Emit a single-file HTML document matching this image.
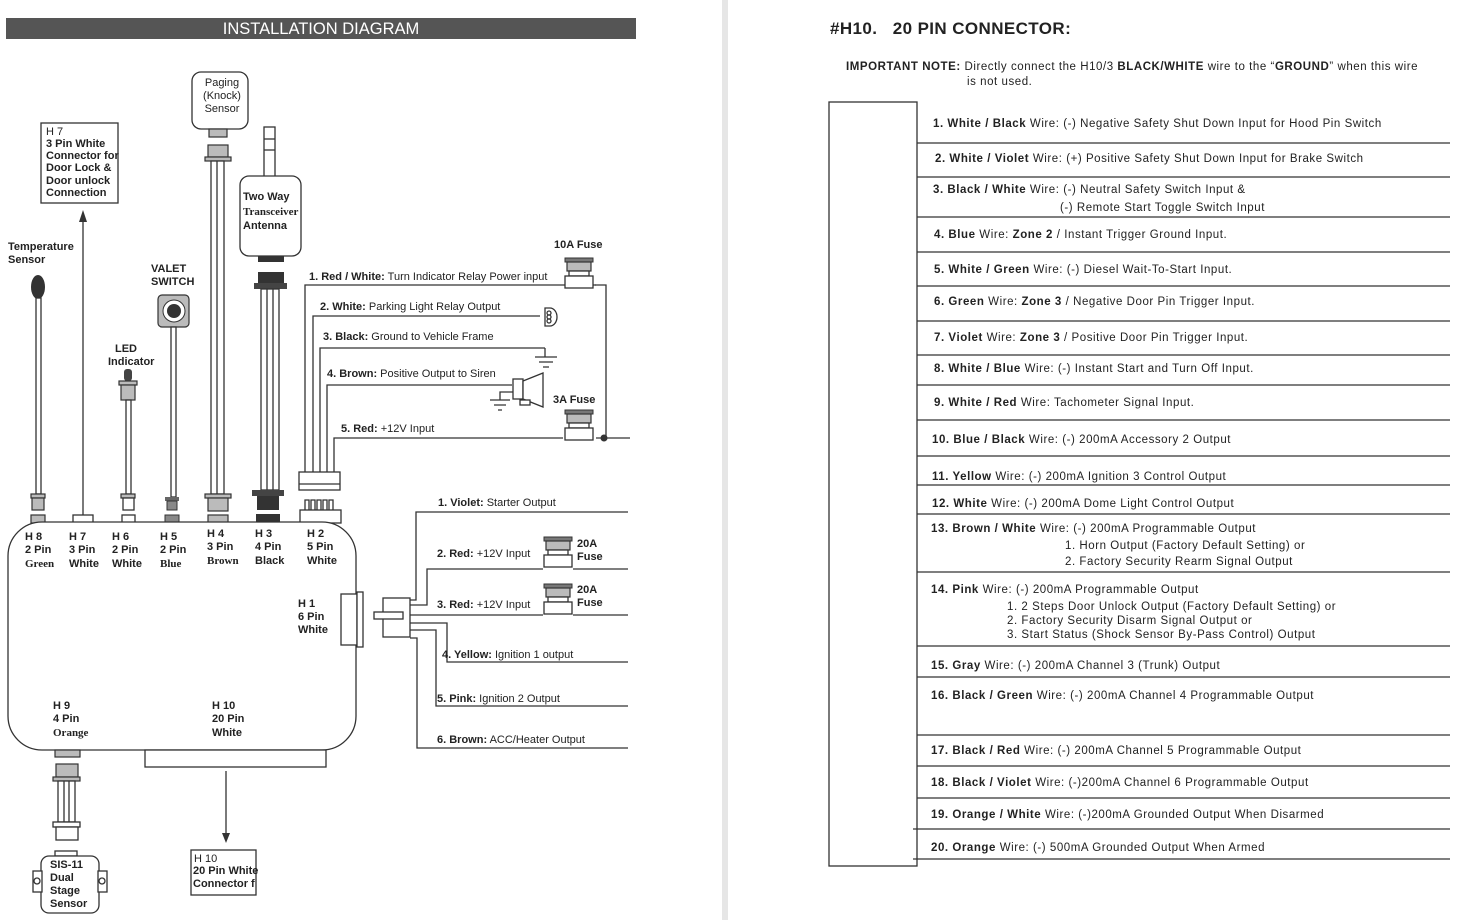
<!DOCTYPE html>
<html><head><meta charset="utf-8"><style>
html,body{margin:0;padding:0;background:#fff}
svg{display:block;font-family:"Liberation Sans",Arial,sans-serif}
.s{fill:none;stroke:#333;stroke-width:1.3}
.t{font-size:11px;fill:#222}
.b{font-weight:bold}
.r{font-size:11.5px;fill:#222;letter-spacing:0.55px}
.g{fill:#bbb;stroke:#333;stroke-width:1.2}
.w{fill:#fff;stroke:#333;stroke-width:1.3}
.d{fill:#444;stroke:#222}
</style></head><body>
<svg width="1464" height="920" viewBox="0 0 1464 920">
<defs>
<g id="fuse"><rect x="2" y="0" width="28" height="4" fill="#777" stroke="#333"/><rect x="4" y="4" width="24" height="9" class="g"/><rect x="6" y="13" width="20" height="5" class="w"/><rect x="2" y="18" width="28" height="12" class="w"/></g>
</defs>
<rect x="722" y="0" width="6" height="920" fill="#e6e6e6"/>
<!-- title -->
<rect x="6" y="18" width="630" height="21" fill="#555"/>
<text x="321" y="34" text-anchor="middle" fill="#fff" font-size="16.5">INSTALLATION DIAGRAM</text>

<!-- H7 box -->
<rect x="41" y="123" width="77" height="80" class="w"/>
<text x="46" y="135" class="t" font-size="12">H 7</text>
<text class="t b" font-size="9.5"><tspan x="46" y="147">3 Pin White</tspan><tspan x="46" y="159">Connector for</tspan><tspan x="46" y="171">Door Lock &amp;</tspan><tspan x="46" y="184">Door unlock</tspan><tspan x="46" y="196">Connection</tspan></text>
<line x1="83" y1="222" x2="83" y2="516" class="s"/>
<polygon points="83,210 79,222 87,222" fill="#333"/>

<!-- temp sensor -->
<text class="t b" font-size="11"><tspan x="8" y="250">Temperature</tspan><tspan x="8" y="263">Sensor</tspan></text>
<ellipse cx="38" cy="287" rx="7" ry="12" fill="#333"/>
<rect x="36" y="298" width="5" height="196" class="w"/>
<rect x="31" y="494" width="14" height="4" class="g"/><rect x="32" y="498" width="12" height="12" class="g"/>

<!-- LED -->
<text class="t b" x="115" y="352">LED</text><text class="t b" x="108" y="365">Indicator</text>
<rect x="124" y="369" width="8" height="12" rx="3" fill="#444"/>
<rect x="119" y="381" width="18" height="4" class="g"/><rect x="121" y="385" width="14" height="15" class="g"/>
<rect x="126" y="400" width="5" height="94" class="w"/>
<rect x="121" y="494" width="14" height="4" class="g"/><rect x="123" y="498" width="11" height="12" class="w"/>

<!-- valet -->
<text class="t b" x="151" y="272">VALET</text><text class="t b" x="151" y="285">SWITCH</text>
<rect x="158" y="295" width="31" height="32" rx="4" class="g"/>
<circle cx="174" cy="311" r="11" fill="#fff" stroke="#333"/><circle cx="174" cy="311" r="7" fill="#333"/>
<rect x="171" y="327" width="5" height="170" class="w"/>
<rect x="165" y="497" width="14" height="4" fill="#666"/><rect x="167" y="501" width="10" height="9" fill="#888" stroke="#333"/>

<!-- paging sensor -->
<rect x="192" y="72" width="56" height="57" rx="9" class="w"/>
<text class="t" text-anchor="middle"><tspan x="222" y="86">Paging</tspan><tspan x="222" y="99">(Knock)</tspan><tspan x="222" y="112">Sensor</tspan></text>
<rect x="209" y="129" width="18" height="8" class="g"/>
<rect x="208" y="145" width="20" height="12" class="g"/><rect x="205" y="157" width="26" height="4" class="g"/>
<rect x="211" y="161" width="13" height="333" class="w"/><line x1="217" y1="161" x2="217" y2="494" class="s"/>
<rect x="205" y="494" width="26" height="4" class="g"/><rect x="208" y="498" width="20" height="13" class="g"/>

<!-- antenna -->
<rect x="264" y="127" width="11" height="50" class="w"/><line x1="264" y1="139" x2="275" y2="139" class="s"/><line x1="264" y1="150" x2="275" y2="150" class="s"/>
<rect x="240" y="176" width="61" height="80" rx="9" class="w"/>
<text class="t b"><tspan x="243" y="200">Two Way</tspan><tspan x="243" y="215" font-family="Liberation Serif">Transceiver</tspan><tspan x="243" y="229">Antenna</tspan></text>
<rect x="258" y="256" width="26" height="6" fill="#333"/>
<rect x="258" y="272" width="26" height="11" fill="#333"/><rect x="254" y="283" width="33" height="6" fill="#444"/>
<rect x="261" y="289" width="18" height="201" class="w"/><line x1="267" y1="289" x2="267" y2="490" class="s"/><line x1="273" y1="289" x2="273" y2="490" class="s"/>
<rect x="252" y="490" width="32" height="6" fill="#444"/><rect x="257" y="496" width="22" height="14" fill="#333"/>

<!-- connector pads on module -->
<rect x="31" y="515" width="14" height="8" class="g"/>
<rect x="73" y="515" width="20" height="8" class="w"/>
<rect x="122" y="515" width="13" height="8" class="w"/>
<rect x="165" y="515" width="14" height="8" fill="#888" stroke="#333"/>
<rect x="208" y="515" width="20" height="8" class="g"/>
<rect x="256" y="514" width="24" height="9" fill="#333"/>
<rect x="300" y="510" width="41" height="13" class="w"/>
<path d="M305 510v-10h4v10M311 510v-10h4v10M317 510v-10h4v10M323 510v-10h4v10M329 510v-10h4v10" class="s"/>

<!-- module -->
<rect x="8" y="522" width="348" height="228" rx="34" class="w" stroke-width="1.5"/>
<rect x="145" y="750" width="181" height="17" class="w"/>
<g class="t b" font-size="10.5">
<text x="25" y="540">H 8</text><text x="25" y="553">2 Pin</text><text x="25" y="567" font-family="Liberation Serif">Green</text>
<text x="69" y="540">H 7</text><text x="69" y="553">3 Pin</text><text x="69" y="567">White</text>
<text x="112" y="540">H 6</text><text x="112" y="553">2 Pin</text><text x="112" y="567">White</text>
<text x="160" y="540">H 5</text><text x="160" y="553">2 Pin</text><text x="160" y="567" font-family="Liberation Serif">Blue</text>
<text x="207" y="537">H 4</text><text x="207" y="550">3 Pin</text><text x="207" y="564" font-family="Liberation Serif">Brown</text>
<text x="255" y="537">H 3</text><text x="255" y="550">4 Pin</text><text x="255" y="564">Black</text>
<text x="307" y="537">H 2</text><text x="307" y="550">5 Pin</text><text x="307" y="564">White</text>
<text x="298" y="607">H 1</text><text x="298" y="620">6 Pin</text><text x="298" y="633">White</text>
<text x="53" y="709">H 9</text><text x="53" y="722">4 Pin</text><text x="53" y="736" font-family="Liberation Serif">Orange</text>
<text x="212" y="709">H 10</text><text x="212" y="722">20 Pin</text><text x="212" y="736">White</text>
</g>

<!-- H9 -->
<rect x="55" y="750" width="25" height="7" class="g"/>
<rect x="56" y="764" width="22" height="13" class="g"/><rect x="53" y="777" width="27" height="4" class="g"/>
<rect x="58" y="781" width="17" height="41" class="w"/><line x1="64" y1="781" x2="64" y2="822" class="s"/><line x1="69" y1="781" x2="69" y2="822" class="s"/>
<rect x="53" y="822" width="27" height="5" class="w"/><rect x="56" y="827" width="22" height="13" class="w"/>
<rect x="55" y="851" width="22" height="5" class="w"/>
<rect x="41" y="856" width="58" height="57" rx="8" class="w"/>
<rect x="33" y="871" width="9" height="21" class="w"/><circle cx="37" cy="881" r="3" class="w"/>
<rect x="98" y="871" width="9" height="21" class="w"/><circle cx="102" cy="881" r="3" class="w"/>
<text class="t b"><tspan x="50" y="868">SIS-11</tspan><tspan x="50" y="881">Dual</tspan><tspan x="50" y="894">Stage</tspan><tspan x="50" y="907">Sensor</tspan></text>

<!-- H10 arrow -->
<line x1="226" y1="771" x2="226" y2="834" class="s"/><polygon points="226,843 222,833 230,833" fill="#333"/>
<rect x="191" y="850" width="65" height="45" class="w"/>
<text x="194" y="862" class="t" font-size="12">H 10</text>
<text class="t b" font-size="9"><tspan x="193" y="874">20 Pin White</tspan><tspan x="193" y="887">Connector f</tspan></text>

<!-- H2 harness -->
<rect x="299" y="472" width="41" height="18" class="w"/><line x1="299" y1="484" x2="340" y2="484" class="s"/>
<path d="M305 472V285H596M313 472V316H540M320 472V348H545M327 472V385H512M334 472V438H563" class="s"/>
<path d="M595 285H606V438M596 438H630" class="s"/>
<circle cx="604" cy="438" r="3.5" fill="#333"/>
<g transform="translate(563,258)"><use href="#fuse"/></g>
<g transform="translate(563,410)"><use href="#fuse"/></g>
<text x="554" y="248" class="t b">10A Fuse</text>
<text x="553" y="403" class="t b">3A Fuse</text>
<!-- lamp -->
<path d="M545 308h5a7 9 0 0 1 0 18h-5z" class="w"/><circle cx="549" cy="313" r="2" class="w"/><circle cx="549" cy="317" r="2" class="w"/><circle cx="549" cy="321" r="2" class="w"/>
<!-- ground -->
<path d="M545 348v9M535 357h22M539 362h14M543 367h6" class="s"/>
<!-- siren -->
<rect x="513" y="379" width="10" height="20" class="w"/><path d="M523 381l20-8v34l-20-8z" class="w"/>
<rect x="520" y="400" width="10" height="5" class="w"/>
<path d="M513 392h-13v8M490 400h20M494 405h12M498 410h4" class="s"/>
<g class="t">
<text x="309" y="280"><tspan class="b">1. Red / White:</tspan> Turn Indicator Relay Power input</text>
<text x="320" y="310"><tspan class="b">2. White:</tspan> Parking Light Relay Output</text>
<text x="323" y="340"><tspan class="b">3. Black:</tspan> Ground to Vehicle Frame</text>
<text x="327" y="377"><tspan class="b">4. Brown:</tspan> Positive Output to Siren</text>
<text x="341" y="432"><tspan class="b">5. Red:</tspan> +12V Input</text>
</g>

<!-- H1 -->
<rect x="341" y="594" width="16" height="51" class="w"/><rect x="357" y="592" width="6" height="55" class="w"/>
<rect x="383" y="598" width="27" height="39" class="w"/><rect x="374" y="612" width="29" height="7" class="w"/>
<path d="M410 600H416V512H628M410 605H427V569H543M573 569H628M410 615H543M573 615H628M410 623H447V662H628M410 630H436V706H628M410 638H417V748H628" class="s"/>
<g transform="translate(542,537)"><use href="#fuse"/></g>
<g transform="translate(542,584)"><use href="#fuse"/></g>
<g class="t">
<text x="438" y="506"><tspan class="b">1. Violet:</tspan> Starter Output</text>
<text x="437" y="557"><tspan class="b">2. Red:</tspan> +12V Input</text>
<text x="437" y="608"><tspan class="b">3. Red:</tspan> +12V Input</text>
<text x="442" y="658"><tspan class="b">4. Yellow:</tspan> Ignition 1 output</text>
<text x="437" y="702"><tspan class="b">5. Pink:</tspan> Ignition 2 Output</text>
<text x="437" y="743"><tspan class="b">6. Brown:</tspan> ACC/Heater Output</text>
<text x="577" y="547" class="b">20A</text><text x="577" y="560" class="b">Fuse</text>
<text x="577" y="593" class="b">20A</text><text x="577" y="606" class="b">Fuse</text>
</g>

<!-- RIGHT PAGE -->
<text x="830" y="34" font-size="17" font-weight="bold" fill="#222" letter-spacing="0.4">#H10.&#160;&#160; 20 PIN CONNECTOR:</text>
<text x="846" y="70" class="r" font-size="11" letter-spacing="0.85"><tspan class="b">IMPORTANT NOTE:</tspan> Directly connect the H10/3 <tspan class="b">BLACK/WHITE</tspan> wire to the “<tspan class="b">GROUND</tspan>” when this wire</text>
<text x="967" y="85" class="r" font-size="11" letter-spacing="0.85">is not used.</text>
<rect x="829" y="102" width="88" height="764" fill="none" stroke="#333" stroke-width="1.3"/>
<path d="M917 143H1450M917 177H1450M917 217H1450M917 252H1450M917 286H1450M917 321H1450M917 355H1450M917 385H1450M917 420H1450M917 456H1450M917 485H1450M917 514H1450M917 572H1450M917 646H1450M917 677H1450M917 735H1450M917 766H1450M917 798H1450M913 829H1450M913 859H1450" class="s"/>
<g class="r">
<text x="933" y="127"><tspan class="b">1. White / Black</tspan> Wire: (-) Negative Safety Shut Down Input for Hood Pin Switch</text>
<text x="935" y="162"><tspan class="b">2. White / Violet</tspan> Wire: (+) Positive Safety Shut Down Input for Brake Switch</text>
<text x="933" y="193"><tspan class="b">3. Black / White</tspan> Wire: (-) Neutral Safety Switch Input &amp;</text>
<text x="1060" y="211">(-) Remote Start Toggle Switch Input</text>
<text x="934" y="238"><tspan class="b">4. Blue</tspan> Wire: <tspan class="b">Zone 2</tspan> / Instant Trigger Ground Input.</text>
<text x="934" y="273"><tspan class="b">5. White / Green</tspan> Wire: (-) Diesel Wait-To-Start Input.</text>
<text x="934" y="305"><tspan class="b">6. Green</tspan> Wire: <tspan class="b">Zone 3</tspan> / Negative Door Pin Trigger Input.</text>
<text x="934" y="341"><tspan class="b">7. Violet</tspan> Wire: <tspan class="b">Zone 3</tspan> / Positive Door Pin Trigger Input.</text>
<text x="934" y="372"><tspan class="b">8. White / Blue</tspan> Wire: (-) Instant Start and Turn Off Input.</text>
<text x="934" y="406"><tspan class="b">9. White / Red</tspan> Wire: Tachometer Signal Input.</text>
<text x="932" y="443"><tspan class="b">10. Blue / Black</tspan> Wire: (-) 200mA Accessory 2 Output</text>
<text x="932" y="480"><tspan class="b">11. Yellow</tspan> Wire: (-) 200mA Ignition 3 Control Output</text>
<text x="932" y="507"><tspan class="b">12. White</tspan> Wire: (-) 200mA Dome Light Control Output</text>
<text x="931" y="532"><tspan class="b">13. Brown / White</tspan> Wire: (-) 200mA Programmable Output</text>
<text x="1065" y="549">1. Horn Output (Factory Default Setting) or</text>
<text x="1065" y="565">2. Factory Security Rearm Signal Output</text>
<text x="931" y="593"><tspan class="b">14. Pink</tspan> Wire: (-) 200mA Programmable Output</text>
<text x="1007" y="610">1. 2 Steps Door Unlock Output (Factory Default Setting) or</text>
<text x="1007" y="624">2. Factory Security Disarm Signal Output or</text>
<text x="1007" y="638">3. Start Status (Shock Sensor By-Pass Control) Output</text>
<text x="931" y="669"><tspan class="b">15. Gray</tspan> Wire: (-) 200mA Channel 3 (Trunk) Output</text>
<text x="931" y="699"><tspan class="b">16. Black / Green</tspan> Wire: (-) 200mA Channel 4 Programmable Output</text>
<text x="931" y="754"><tspan class="b">17. Black / Red</tspan> Wire: (-) 200mA Channel 5 Programmable Output</text>
<text x="931" y="786"><tspan class="b">18. Black / Violet</tspan> Wire: (-)200mA Channel 6 Programmable Output</text>
<text x="931" y="818"><tspan class="b">19. Orange / White</tspan> Wire: (-)200mA Grounded Output When Disarmed</text>
<text x="931" y="851"><tspan class="b">20. Orange</tspan> Wire: (-) 500mA Grounded Output When Armed</text>
</g>
</svg>
</body></html>
